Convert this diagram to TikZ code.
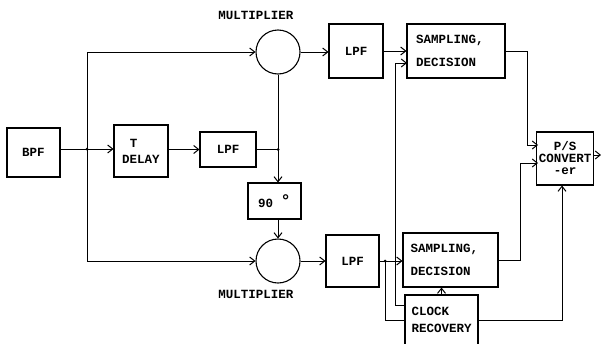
\documentclass[tikz,border=0pt]{standalone}
\usepackage{fontspec}
\setmainfont{Liberation Mono}
\usetikzlibrary{arrows.meta}
\begin{document}
\begin{tikzpicture}[x=1pt,y=-1pt,
  txt/.style={font=\fontsize{12.5}{14}\selectfont\bfseries},
  box/.style={draw, line width=1.1pt, inner sep=2pt, txt},
  mult/.style={draw, circle, minimum size=44pt, inner sep=0pt, line width=1.1pt},
  lbl/.style={txt, inner sep=0pt},
  ln/.style={line width=1pt},
  arr/.style={ln, -{Straight Barb[length=5pt,width=8pt]}},
  dot/.style={fill, circle, inner sep=0pt, minimum size=3pt}]
\useasboundingbox (0,0) rectangle (601,343);
% blocks
\node[box, minimum width=53pt, minimum height=49pt] (BPF) at (33.5,152.5) {BPF};
\node[box, minimum width=54pt, minimum height=52pt, align=left] (DEL) at (141,151) {~T\\[2pt]DELAY};
\node[box, minimum width=56pt, minimum height=35pt] (LPFm) at (228,149.5) {LPF};
\node[box, minimum width=53pt, minimum height=36pt] (PH) at (274.5,201) {90 \raisebox{1pt}{\fontsize{17}{17}\selectfont °}};
\node[mult] (M1) at (278,52) {};
\node[mult] (M2) at (278,261) {};
\node[lbl] (L1) at (256,15) {MULTIPLIER};
\node[lbl] (L2) at (256,294) {MULTIPLIER};
\node[box, minimum width=54pt, minimum height=54pt] (LPF1) at (356,51) {LPF};
\node[box, minimum width=98pt, minimum height=54pt, text width=80pt, align=left] (S1) at (456,51) {SAMPLING,\\[9pt]DECISION};
\node[box, minimum width=53pt, minimum height=52pt] (LPF2) at (352.5,261) {LPF};
\node[box, minimum width=95pt, minimum height=54pt, text width=80pt, align=left] (S2) at (450.5,260) {SAMPLING,\\[9pt]DECISION};
\node[box, minimum width=73pt, minimum height=50pt, align=left] (CR) at (441.5,320) {CLOCK\\[3pt]RECOVERY};
\node[box, minimum width=54pt, minimum height=53pt, align=center] (PS) at (565,158.5) {P/S\\[-2pt]CONVERT\\[-2pt]-er};
% coordinates
\coordinate (j1) at (87,149);
\coordinate (j2) at (278,149.5);
\coordinate (j3) at (385,261);
\coordinate (c1) at (395,305);
\coordinate (s1in) at (407,63);
\coordinate (p1) at (538,145);
\coordinate (p2) at (538,163);
\coordinate (out) at (601,155);
% connectors
\draw[ln] (j1 -| BPF.east) -- (j1);
\draw[arr] (j1) -- (j1 -| DEL.west);
\draw[arr] (j1) |- (M1.west);
\draw[arr] (j1) |- (M2.west);
\draw[arr] (DEL.east |- LPFm.west) -- (LPFm.west);
\draw[ln] (LPFm.east) -- (j2);
\draw[ln] (j2) -- (M1.south);
\draw[arr] (j2) -- (j2 |- PH.north);
\draw[arr] (PH.south -| M2.north) -- (M2.north);
\draw[arr] (M1.east) -- (M1.east -| LPF1.west);
\draw[arr] (LPF1.east) -- (S1.west);
\draw[arr] (M2.east) -- (LPF2.west);
\draw[ln] (LPF2.east) -- (j3);
\draw[arr] (j3) -- (j3 -| S2.west);
\draw[ln] (j3) |- (CR.west);
\draw[arr] (c1 -| CR.west) -- (c1) |- (s1in);
\draw[arr] (CR.north) -- (CR.north |- S2.south);
\draw[arr] (CR.east) -| ([xshift=-3pt]PS.south);
\draw[arr] (S1.east) -| ([xshift=-11pt]p1) -- (p1);
\draw[arr] (S2.east) -| ([xshift=-18pt]p2) -- (p2);
\draw[arr] (PS.east |- out) -- (out);
\node[dot] at (j1) {};
\node[dot] at (j2) {};
\node[dot] at (j3) {};
\end{tikzpicture}
\end{document}
